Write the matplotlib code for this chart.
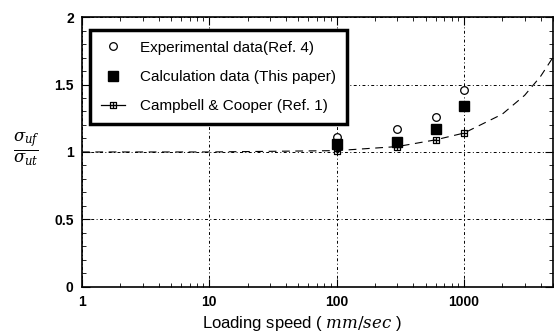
import numpy as np
import matplotlib.pyplot as plt
from matplotlib.path import Path
from matplotlib.ticker import FixedLocator, MultipleLocator, NullFormatter

# loading speed (mm/sec) and strength ratios
speed = [100, 300, 600, 1000]
experimental = [1.11, 1.17, 1.26, 1.46]
calculation = [1.06, 1.075, 1.17, 1.34]
campbell = [1.01, 1.04, 1.09, 1.14]

# dashed Campbell & Cooper curve
curve_speed = [1, 10, 100, 300, 600, 1000, 2000, 3000, 4000, 5000]
curve_ratio = [1.0, 1.0, 1.01, 1.04, 1.09, 1.14, 1.28, 1.42, 1.56, 1.70]

x_ticks = [1, 10, 100, 1000]
y_ticks = [0, 0.5, 1, 1.5, 2]
y_tick_labels = ["0", "0.5", "1", "1.5", "2"]

# square with a cross inside
box_plus = Path(
    [(-1, -1), (1, -1), (1, 1), (-1, 1), (-1, -1), (0, -1), (0, 1), (-1, 0), (1, 0)],
    [Path.MOVETO, Path.LINETO, Path.LINETO, Path.LINETO, Path.CLOSEPOLY,
     Path.MOVETO, Path.LINETO, Path.MOVETO, Path.LINETO])

plt.rcParams['font.family'] = ['Liberation Sans', 'DejaVu Sans']
plt.rcParams['mathtext.fontset'] = 'dejavuserif'

fig = plt.figure(figsize=(5.54, 3.34), dpi=100)
ax = fig.add_axes([0.148, 0.141, 0.85, 0.808])

ax.plot(curve_speed, curve_ratio, color='black', lw=0.8, dashes=(7, 5))
ax.plot(speed, campbell, ls='none', marker=box_plus, ms=5, mfc='none',
        mec='black', mew=0.9)
ax.plot(speed, experimental, ls='none', marker='o', ms=5.5, mfc='white',
        mec='black', mew=0.9)
ax.plot(speed, calculation, ls='none', marker='s', ms=6.5, color='black')

ax.set_xscale('log')
ax.set_xlim(1, 5000)
ax.set_ylim(0, 2)
ax.xaxis.set_major_locator(FixedLocator(x_ticks))
ax.set_xticklabels([str(v) for v in x_ticks])
ax.xaxis.set_minor_formatter(NullFormatter())
ax.set_yticks(y_ticks)
ax.set_yticklabels(y_tick_labels)
ax.yaxis.set_minor_locator(MultipleLocator(0.1))
ax.tick_params(which='both', direction='in', top=True, right=True)
ax.tick_params(which='major', length=6, labelsize=10, pad=6)
ax.tick_params(which='minor', length=3)
for lab in ax.get_xticklabels() + ax.get_yticklabels():
    lab.set_fontweight('bold')

ax.grid(True, which='major', color='black', lw=0.7, ls=(0, (3, 2.5, 1, 2.5)))
for sp in ax.spines.values():
    sp.set_linewidth(1.2)

fig.text(0.545, 0.018, "Loading speed ( $\\mathit{mm/sec}$ )", fontsize=12,
         ha='center', va='baseline')
fig.text(0.047, 0.552, r"$\frac{\sigma_{uf}}{\sigma_{ut}}$", fontsize=17,
         ha='center', va='center')

h1, = ax.plot([], [], ls='none', marker='o', ms=5.5, mfc='white', mec='black', mew=0.9)
h2, = ax.plot([], [], ls='none', marker='s', ms=6.5, color='black')
h3, = ax.plot([], [], color='black', lw=0.9, marker=box_plus, ms=5, mfc='none',
              mec='black', mew=0.9)
leg = ax.legend([h1, h2, h3],
                ["Experimental data(Ref. 4)", "Calculation data (This paper)",
                 "Campbell & Cooper (Ref. 1)"],
                loc='upper left', bbox_to_anchor=(0.017, 0.952), fontsize=11,
                frameon=True, fancybox=False, edgecolor='black', framealpha=1,
                numpoints=1, handlelength=1.6, handletextpad=1.0,
                borderpad=0.7, labelspacing=1.0, borderaxespad=0)
leg.get_frame().set_linewidth(2.5)

fig.savefig("out.png", dpi=100)
